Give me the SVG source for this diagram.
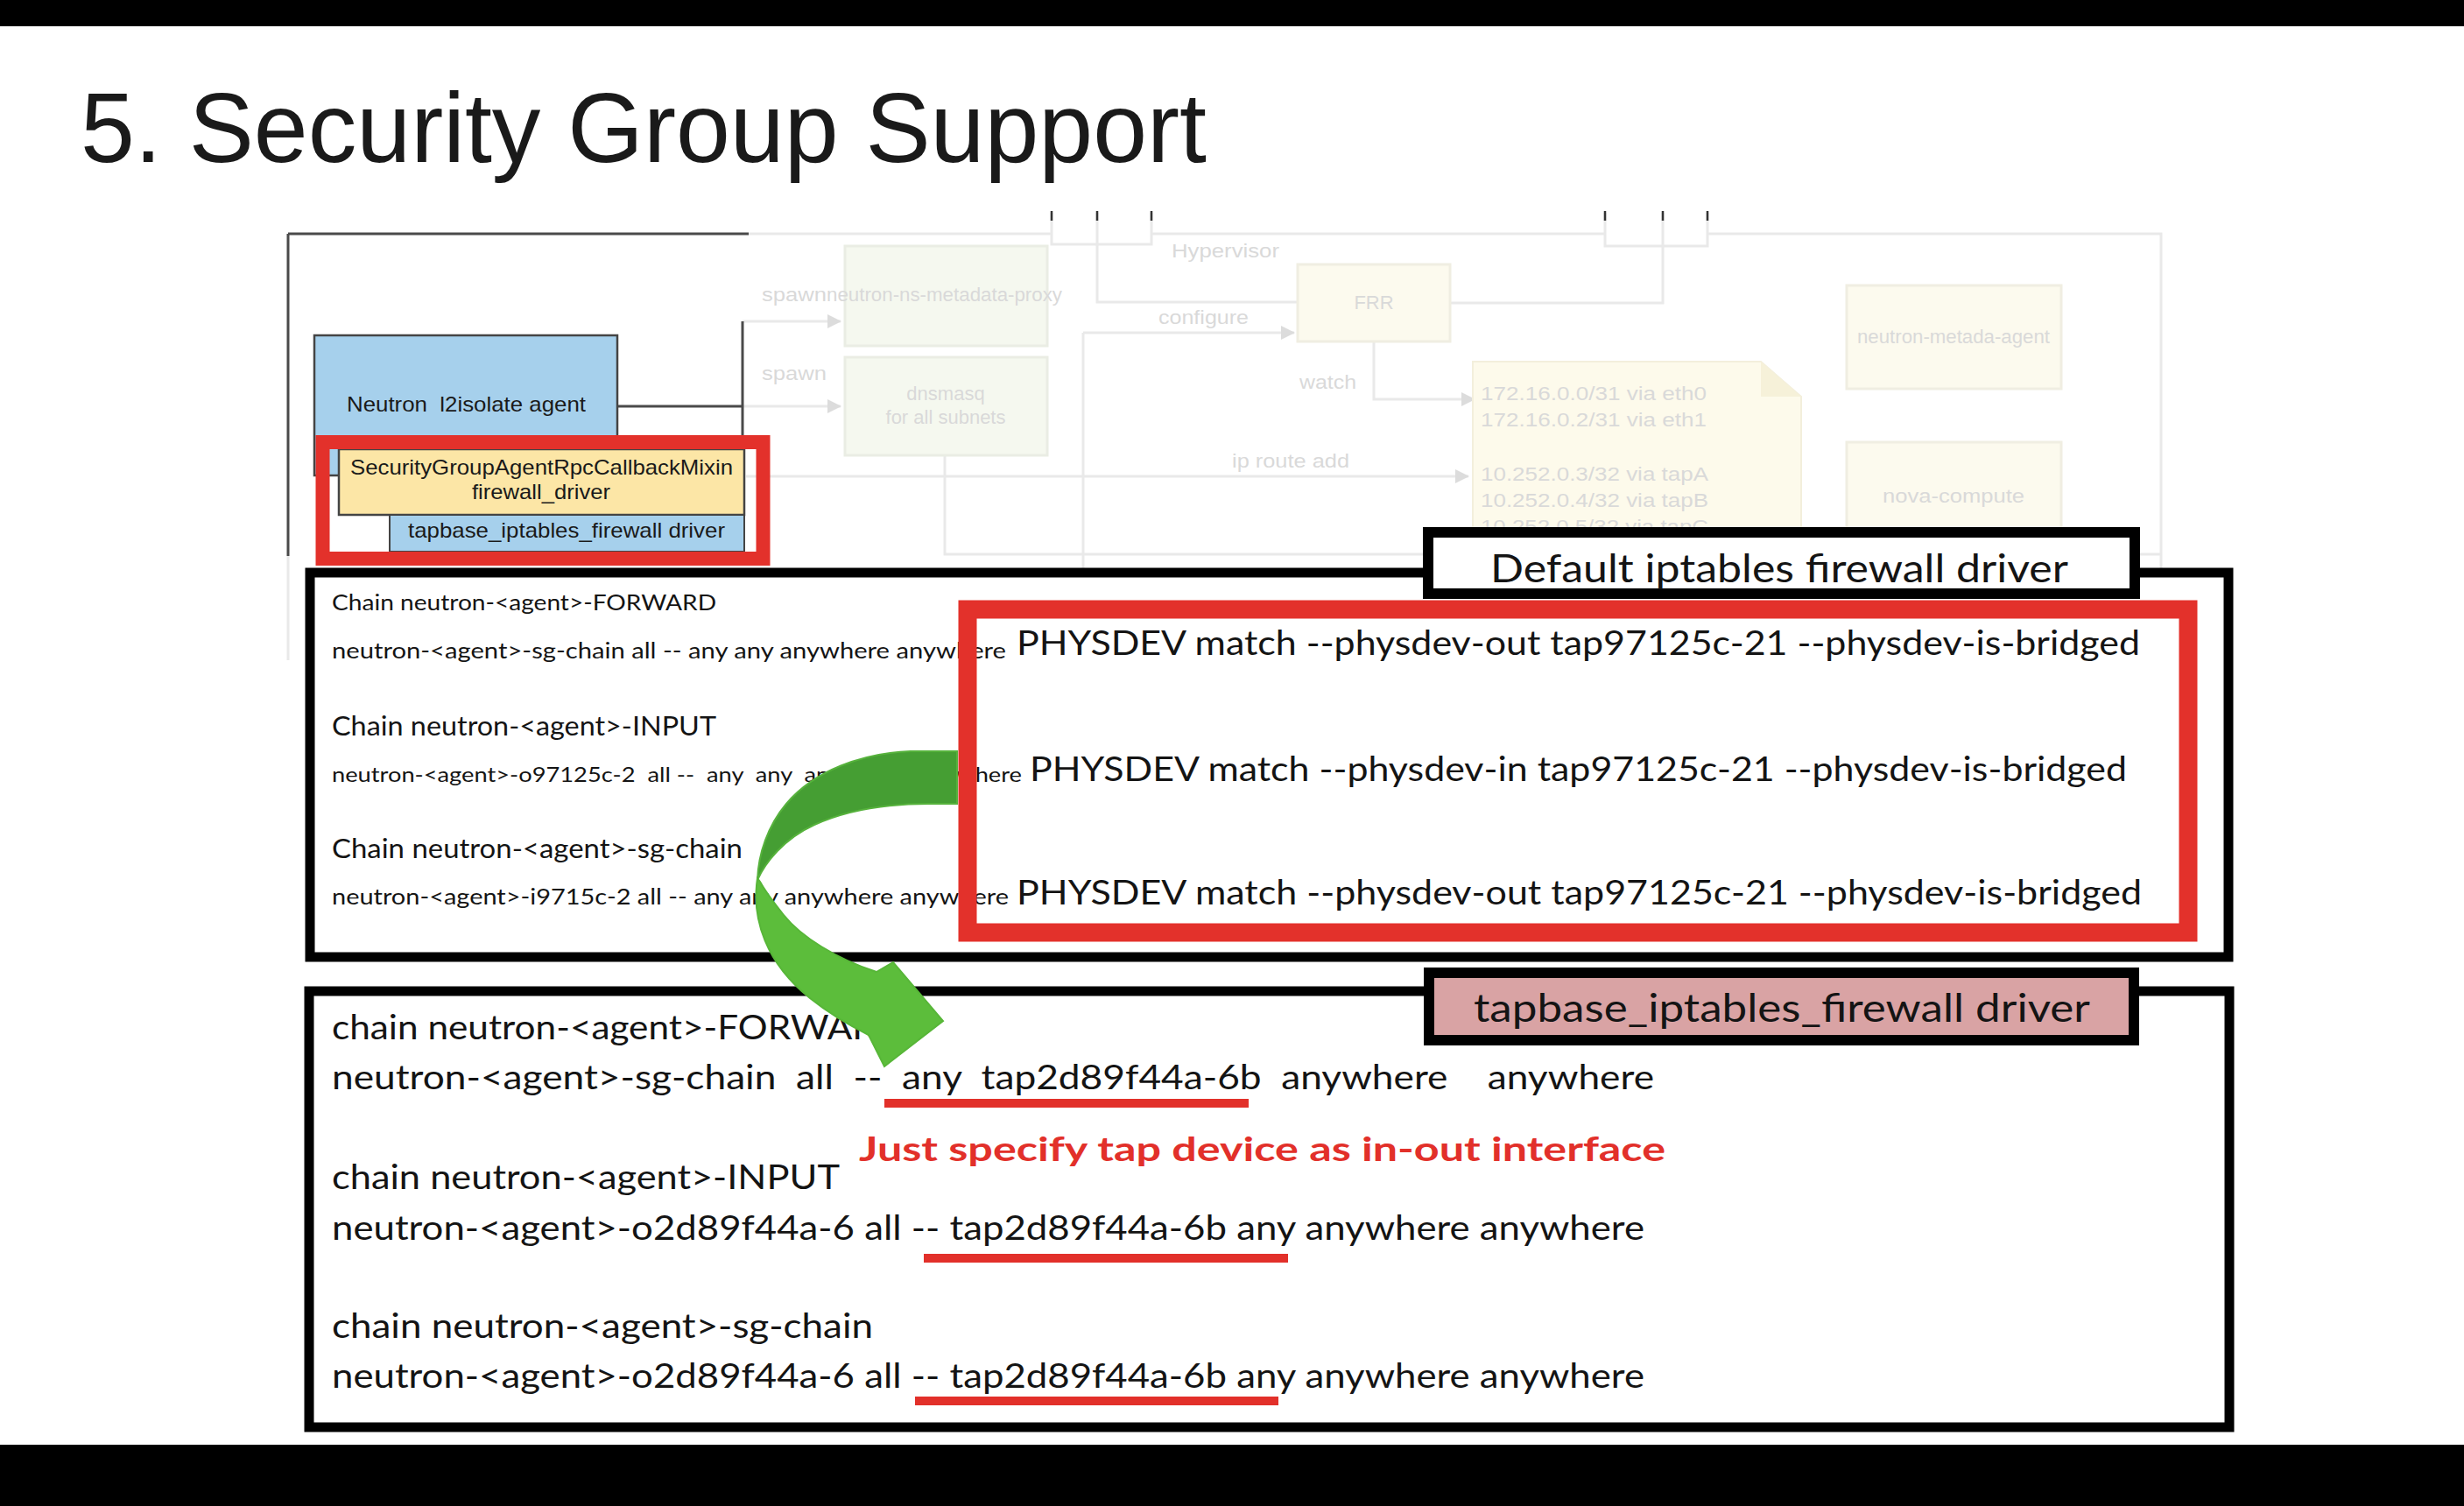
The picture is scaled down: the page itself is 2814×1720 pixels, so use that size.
<svg xmlns="http://www.w3.org/2000/svg" width="2814" height="1720" viewBox="0 0 2814 1720">
<defs>
<style>
.lato{font-family:Lato,"Open Sans","DejaVu Sans",sans-serif;fill:#141414}
.arial{font-family:"Liberation Sans",Arial,sans-serif;fill:#1a1a1a}
.fd{font-family:"Liberation Sans",Arial,sans-serif;fill:#d9d9d9;font-size:22px}
.fl{fill:none;stroke:#e9e9e9;stroke-width:3}
.dl{fill:none;stroke:#4a4a4a;stroke-width:3}
.tk{fill:none;stroke:#333;stroke-width:2.5}
.fbox{fill:#f5f8ef;stroke:#eaede4;stroke-width:3}
.ybox{fill:#fcfaee;stroke:#f0eee2;stroke-width:3}
.ul{stroke:#e2302a;stroke-width:10;fill:none}
.frame{fill:#fff;stroke:#000;stroke-width:11}
</style>
<marker id="fa" markerUnits="userSpaceOnUse" markerWidth="16" markerHeight="16" refX="15" refY="8" orient="auto"><path d="M0,0 L16,8 L0,16 Z" fill="#dcdcdc"/></marker>
</defs>
<rect x="0" y="0" width="2814" height="1720" fill="#fff"/>
<rect x="0" y="0" width="2814" height="30" fill="#000"/>
<rect x="0" y="1650" width="2814" height="70" fill="#000"/>

<text id="title" class="arial" x="92" y="185" font-size="114" textLength="1286" lengthAdjust="spacingAndGlyphs" fill="#000">5. Security Group Support</text>

<!-- faded background diagram -->
<g id="faded-diagram">
<path class="fl" d="M855,267 H1201 M1315,267 H1833 M1950,267 H2468 V650 M329,635 V754"/>
<path class="fl" d="M1201,243 V279 H1315 V243 M1253,243 V345 H1482 M1833,243 V281 H1950 V243 M1899,243 V346 H1656"/>
<path class="tk" d="M1201,241 V252 M1253,241 V252 M1315,241 V252 M1833,241 V252 M1899,241 V252 M1950,241 V252"/>
<path class="fl" d="M1237,380 V650"/>
<path class="fl" d="M1237,380 H1478" marker-end="url(#fa)"/>
<path class="fl" d="M1569,390 V456 H1684" marker-end="url(#fa)"/>
<path class="fl" d="M852,544 H1677" marker-end="url(#fa)"/>
<path class="fl" d="M848,367 H960" marker-end="url(#fa)"/>
<path class="fl" d="M848,464 H960" marker-end="url(#fa)"/>
<path class="fl" d="M1079,520 V633 H2468"/>
<path class="dl" d="M329,267 H855 M329,267 V635 M848,367 V546 M705,464 H848"/>
<rect id="ns-metadata-proxy" class="fbox" x="965" y="281" width="231" height="114"/>
<rect id="dnsmasq" class="fbox" x="965" y="408" width="231" height="112"/>
<rect id="frr" class="ybox" x="1482" y="302" width="174" height="88"/>
<path id="routes-note" d="M1682,413 H2011 L2057,453 V660 H1682 Z" fill="#fdfaeb" stroke="#f3efdc" stroke-width="2"/>
<path d="M2011,413 V453 H2057" fill="#f6f1d9" stroke="none"/>
<rect id="metadata-agent" class="ybox" x="2109" y="326" width="245" height="118"/>
<rect id="nova-compute" class="ybox" x="2109" y="505" width="245" height="160"/>
<text class="fd" x="870" y="344" textLength="74" lengthAdjust="spacingAndGlyphs">spawn</text>
<text class="fd" x="944" y="344" textLength="269" lengthAdjust="spacingAndGlyphs">neutron-ns-metadata-proxy</text>
<text class="fd" x="870" y="434" textLength="74" lengthAdjust="spacingAndGlyphs">spawn</text>
<text class="fd" x="1080" y="457" text-anchor="middle">dnsmasq</text>
<text class="fd" x="1080" y="484" text-anchor="middle">for all subnets</text>
<text class="fd" x="1338" y="294" textLength="123" lengthAdjust="spacingAndGlyphs">Hypervisor</text>
<text class="fd" x="1323" y="370" textLength="103" lengthAdjust="spacingAndGlyphs">configure</text>
<text class="fd" x="1569" y="353" text-anchor="middle">FRR</text>
<text class="fd" x="1484" y="444" textLength="65" lengthAdjust="spacingAndGlyphs">watch</text>
<text class="fd" x="1407" y="534" textLength="134" lengthAdjust="spacingAndGlyphs">ip route add</text>
<text class="fd" x="1691" y="457" textLength="258" lengthAdjust="spacingAndGlyphs">172.16.0.0/31 via eth0</text>
<text class="fd" x="1691" y="487" textLength="258" lengthAdjust="spacingAndGlyphs">172.16.0.2/31 via eth1</text>
<text class="fd" x="1691" y="549" textLength="260" lengthAdjust="spacingAndGlyphs">10.252.0.3/32 via tapA</text>
<text class="fd" x="1691" y="579" textLength="260" lengthAdjust="spacingAndGlyphs">10.252.0.4/32 via tapB</text>
<text class="fd" x="1691" y="609" textLength="260" lengthAdjust="spacingAndGlyphs">10.252.0.5/32 via tapC</text>
<text class="fd" x="2231" y="392" text-anchor="middle" textLength="220" lengthAdjust="spacingAndGlyphs">neutron-metada-agent</text>
<text class="fd" x="2231" y="574" text-anchor="middle" textLength="162" lengthAdjust="spacingAndGlyphs">nova-compute</text>
</g>

<!-- agent -->
<g id="l2isolate-agent">
<rect x="359" y="383" width="346" height="160" fill="#a6d0ec" stroke="#444" stroke-width="2.5"/>
<text class="arial" x="396" y="470" font-size="24" textLength="273" lengthAdjust="spacingAndGlyphs" xml:space="preserve">Neutron  l2isolate agent</text>
</g>
<g id="sg-mixin">
<rect x="387" y="513" width="463" height="75" fill="#fce6a6" stroke="#444" stroke-width="2.5"/>
<text class="arial" x="400" y="542" font-size="24" textLength="437" lengthAdjust="spacingAndGlyphs">SecurityGroupAgentRpcCallbackMixin</text>
<text class="arial" x="539" y="570" font-size="24" textLength="158" lengthAdjust="spacingAndGlyphs">firewall_driver</text>
</g>
<g id="tapbase-driver-box">
<rect x="445" y="588" width="405" height="42" fill="#a6d0ec" stroke="#444" stroke-width="2"/>
<text class="arial" x="466" y="614" font-size="24" textLength="362" lengthAdjust="spacingAndGlyphs">tapbase_iptables_firewall driver</text>
</g>
<rect id="agent-highlight" x="368.5" y="505" width="503" height="133" fill="none" stroke="#e3312b" stroke-width="16"/>

<!-- default iptables box -->
<g id="default-driver">
<rect class="frame" x="354" y="654" width="2191" height="439"/>
<rect x="1631" y="608" width="807" height="70" fill="#fff" stroke="#000" stroke-width="12"/>
<text class="lato" x="2032" y="665" font-size="45" text-anchor="middle" textLength="660" lengthAdjust="spacingAndGlyphs">Default iptables firewall driver</text>
<text class="lato" x="379" y="697" font-size="25" textLength="439" lengthAdjust="spacingAndGlyphs">Chain neutron-&lt;agent&gt;-FORWARD</text>
<text class="lato" x="379" y="752" font-size="25" textLength="770" lengthAdjust="spacingAndGlyphs">neutron-&lt;agent&gt;-sg-chain all -- any any anywhere anywhere</text>
<text class="lato" x="379" y="840" font-size="30" textLength="439" lengthAdjust="spacingAndGlyphs">Chain neutron-&lt;agent&gt;-INPUT</text>
<text class="lato" x="379" y="893" font-size="24" textLength="788" lengthAdjust="spacingAndGlyphs" xml:space="preserve">neutron-&lt;agent&gt;-o97125c-2  all --  any  any  anywhere  anywhere</text>
<text class="lato" x="379" y="980" font-size="30" textLength="469" lengthAdjust="spacingAndGlyphs">Chain neutron-&lt;agent&gt;-sg-chain</text>
<text class="lato" x="379" y="1033" font-size="25" textLength="773" lengthAdjust="spacingAndGlyphs">neutron-&lt;agent&gt;-i9715c-2 all -- any any anywhere anywhere</text>
<text class="lato" x="1161" y="748" font-size="38" textLength="1283" lengthAdjust="spacingAndGlyphs">PHYSDEV match --physdev-out tap97125c-21 --physdev-is-bridged</text>
<text class="lato" x="1176" y="892" font-size="38" textLength="1253" lengthAdjust="spacingAndGlyphs">PHYSDEV match --physdev-in tap97125c-21 --physdev-is-bridged</text>
<text class="lato" x="1161" y="1033" font-size="38" textLength="1285" lengthAdjust="spacingAndGlyphs">PHYSDEV match --physdev-out tap97125c-21 --physdev-is-bridged</text>
</g>

<!-- tapbase box -->
<g id="tapbase-driver">
<rect class="frame" x="353" y="1132" width="2193" height="498"/>
<rect x="1632" y="1111" width="805" height="77" fill="#d9a3a4" stroke="#000" stroke-width="12"/>
<text class="lato" x="2035" y="1167" font-size="45" text-anchor="middle" textLength="704" lengthAdjust="spacingAndGlyphs">tapbase_iptables_firewall driver</text>
<text class="lato" x="379" y="1187" font-size="38" textLength="653" lengthAdjust="spacingAndGlyphs">chain neutron-&lt;agent&gt;-FORWARD</text>
<text class="lato" x="379" y="1244" font-size="38" textLength="1510" lengthAdjust="spacingAndGlyphs" xml:space="preserve">neutron-&lt;agent&gt;-sg-chain  all  --  any  tap2d89f44a-6b  anywhere    anywhere</text>
<text class="lato" x="981" y="1326" font-size="38" font-weight="bold" style="fill:#e2302a" textLength="921" lengthAdjust="spacingAndGlyphs">Just specify tap device as in-out interface</text>
<text class="lato" x="379" y="1358" font-size="38" textLength="580" lengthAdjust="spacingAndGlyphs">chain neutron-&lt;agent&gt;-INPUT</text>
<text class="lato" x="379" y="1416" font-size="38" textLength="1499" lengthAdjust="spacingAndGlyphs">neutron-&lt;agent&gt;-o2d89f44a-6 all -- tap2d89f44a-6b any anywhere anywhere</text>
<text class="lato" x="379" y="1528" font-size="38" textLength="618" lengthAdjust="spacingAndGlyphs">chain neutron-&lt;agent&gt;-sg-chain</text>
<text class="lato" x="379" y="1585" font-size="38" textLength="1499" lengthAdjust="spacingAndGlyphs">neutron-&lt;agent&gt;-o2d89f44a-6 all -- tap2d89f44a-6b any anywhere anywhere</text>
</g>

<g id="underlines">
<path class="ul" d="M1010,1260 H1426"/>
<path class="ul" d="M1055,1437 H1471"/>
<path class="ul" d="M1045,1600 H1460"/>
</g>

<!-- curved green arrow -->
<g id="green-arrow">
<path d="M1093,858 L1040,858 C985,860 930,880 898,918 C877,943 866,975 865,1005 C874,985 895,958 930,942 C965,926 1010,918 1060,918 L1093,918 Z" fill="#459e33" stroke="#56b23c" stroke-width="2"/>
<path d="M865,1003 C858,1050 875,1100 925,1140 C950,1160 972,1172 992,1182 L1010,1218 L1077,1166 L1020,1099 L1001,1110 C955,1095 915,1070 895,1045 C883,1030 874,1018 868,1007 Z" fill="#5cbd3b" stroke="#57b638" stroke-width="2"/>
</g>

<rect id="physdev-highlight" x="1105" y="696" width="1394" height="369" fill="none" stroke="#e3312b" stroke-width="21"/>
</svg>
